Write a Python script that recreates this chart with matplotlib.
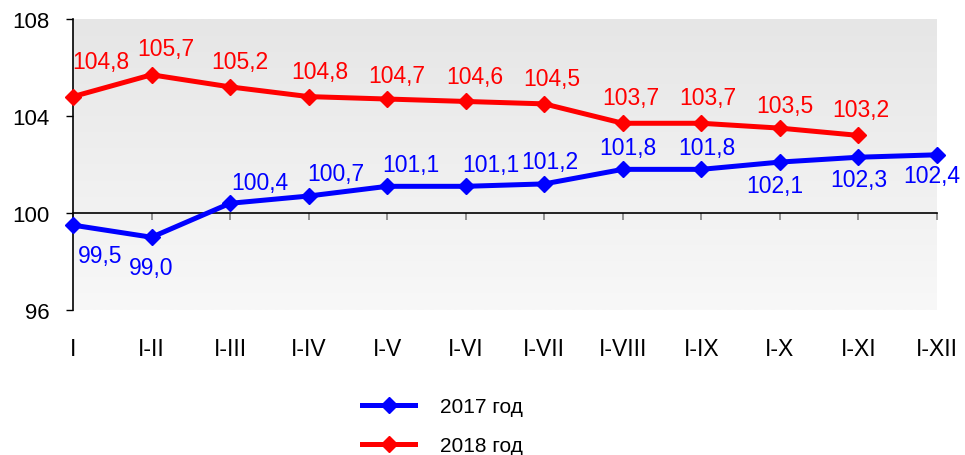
import numpy as np
import matplotlib
matplotlib.use("Agg")
import matplotlib.pyplot as plt
from matplotlib.lines import Line2D

plt.rcParams['font.family'] = ['Liberation Sans', 'DejaVu Sans']

# data
periods = ["I", "I-II", "I-III", "I-IV", "I-V", "I-VI", "I-VII",
           "I-VIII", "I-IX", "I-X", "I-XI", "I-XII"]
vals_2017 = [99.5, 99.0, 100.4, 100.7, 101.1, 101.1, 101.2, 101.8, 101.8, 102.1, 102.3, 102.4]
vals_2018 = [104.8, 105.7, 105.2, 104.8, 104.7, 104.6, 104.5, 103.7, 103.7, 103.5, 103.2]
label_2017 = "2017 год"
label_2018 = "2018 год"
y_ticks = [96, 100, 104, 108]

# label offsets in pixels (layout only)
off_2018 = [(28, 35), (14, 26), (10, 25), (11, 25), (10, 24), (9, 25),
            (8, 25), (8, 26), (6, 26), (5, 23), (2, 26)]
off_2017 = [(27, -30), (0, -30), (30, 21), (27, 23), (24, 22), (25, 22),
            (6, 22), (5, 22), (6, 22), (-5, -23), (0, -22), (-5, -21)]

BLUE = "#0000ff"
RED = "#ff0000"
FS = 16.5

fig = plt.figure(figsize=(9.65, 4.56), dpi=100)
W, H = 965, 456
ax = fig.add_axes([73 / W, 1 - 311 / H, (937 - 73) / W, (311 - 20) / H])

x17 = np.arange(len(vals_2017))
x18 = np.arange(len(vals_2018))
ax.set_xlim(0, len(periods) - 1)
ax.set_ylim(96, 108)

# gradient background
grad = np.linspace(0, 1, 256).reshape(-1, 1)
ax.imshow(grad, extent=[0, len(periods) - 1, 96, 108], aspect='auto',
          cmap=matplotlib.colors.LinearSegmentedColormap.from_list(
              "g", ["#e6e6e6", "#f8f8f8"]),
          origin='upper', zorder=0)

ax.plot(x17, vals_2017, color=BLUE, lw=3.6, marker='D', ms=8,
        zorder=3, clip_on=False, solid_capstyle='round')
ax.plot(x18, vals_2018, color=RED, lw=3.6, marker='D', ms=8,
        zorder=3, clip_on=False, solid_capstyle='round')

for i, v in enumerate(vals_2018):
    dx, dy = off_2018[i]
    ax.annotate(f"{v:.1f}".replace(".", ","), (i, v), xytext=(dx, dy),
                textcoords='offset pixels', ha='center', va='center',
                color=RED, fontsize=FS, zorder=4, annotation_clip=False)
for i, v in enumerate(vals_2017):
    dx, dy = off_2017[i]
    ax.annotate(f"{v:.1f}".replace(".", ","), (i, v), xytext=(dx, dy),
                textcoords='offset pixels', ha='center', va='center',
                color=BLUE, fontsize=FS, zorder=4, annotation_clip=False)

# axes styling
for s in ['top', 'right']:
    ax.spines[s].set_visible(False)
ax.spines['left'].set_linewidth(1.2)
ax.spines['bottom'].set_position(('data', 100))
ax.spines['bottom'].set_linewidth(1.2)
ax.set_yticks(y_ticks)
ax.set_yticklabels([str(t) for t in y_ticks], fontsize=16)
ax.tick_params(axis='y', direction='out', length=5, width=1, pad=12)
ax.set_xticks(range(len(periods)))
ax.set_xticklabels([])
ax.tick_params(axis='x', direction='out', length=5, width=1.2, color='#808080')

for i, p in enumerate(periods):
    ax.annotate(p, (i, 0), xycoords=('data', 'axes fraction'), xytext=(0, -39),
                textcoords='offset pixels', ha='center', va='center',
                fontsize=FS, annotation_clip=False)

handles = [Line2D([], [], color=BLUE, lw=3.6, marker='D', ms=8),
           Line2D([], [], color=RED, lw=3.6, marker='D', ms=8)]
fig.legend(handles, [label_2017, label_2018], loc='upper left',
           bbox_to_anchor=(362 / W, 1 - 398 / H), frameon=False,
           fontsize=15, handlelength=2.55, handletextpad=1.2,
           labelspacing=0.95, borderpad=0, borderaxespad=0, numpoints=1)

fig.savefig("out.png", dpi=100)
